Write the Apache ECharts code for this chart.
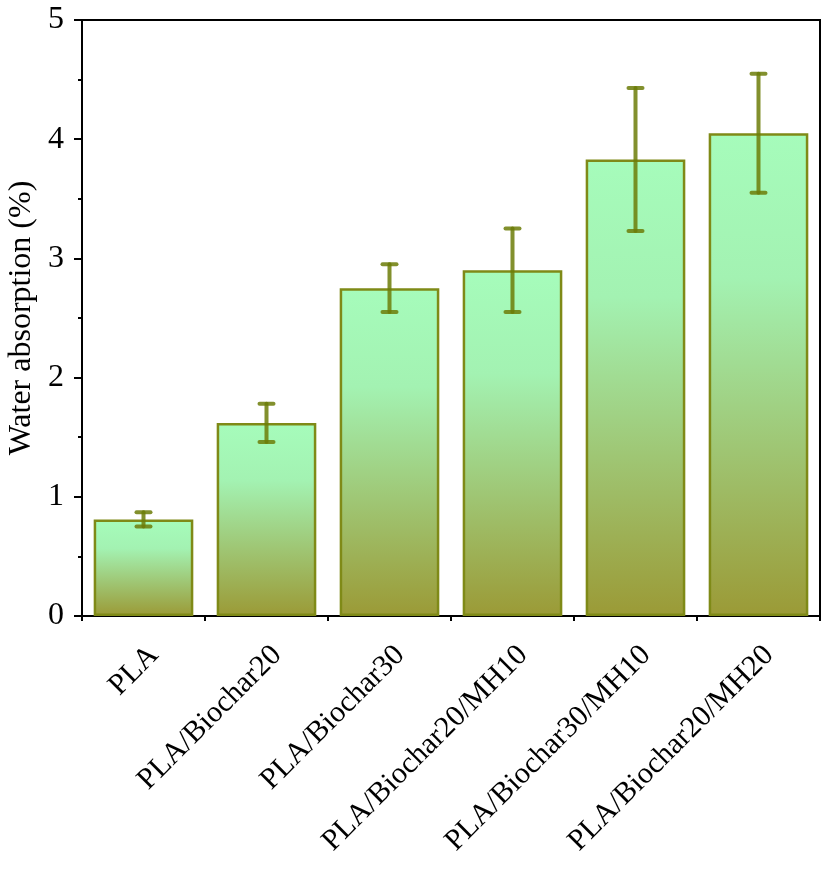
<!DOCTYPE html>
<html>
<head>
<meta charset="utf-8">
<script src="https://cdn.jsdelivr.net/npm/echarts@6/dist/echarts.min.js"></script>
<style>
  html, body { margin: 0; padding: 0; background: #fff; }
  #chart { width: 831px; height: 871px; }
</style>
</head>
<body>
<div id="chart"></div>
<script>
var categories = [
  "PLA",
  "PLA/Biochar20",
  "PLA/Biochar30",
  "PLA/Biochar20/MH10",
  "PLA/Biochar30/MH10",
  "PLA/Biochar20/MH20",
];
var absorption = [0.81, 1.62, 2.75, 2.9, 3.83, 4.05];
var errors = [0.06, 0.16, 0.2, 0.35, 0.6, 0.5];
var yTicks = [0, 1, 2, 3, 4, 5];

var font = '"Times New Roman", Tinos, "Liberation Serif", serif';
var edge = "#7f8a17";
var errColor = "rgba(108, 124, 8, 0.85)";

var errData = absorption.map(function (v, i) {
  return [i, v - errors[i], v + errors[i]];
});

var chart = echarts.init(document.getElementById("chart"), null, {
  renderer: "canvas",
});

var option = {
  animation: false,
  textStyle: { fontFamily: font },
  grid: {
    left: 82,
    right: 11,
    top: 20,
    bottom: 255,
    containLabel: false,
    outerBoundsMode: "none",
    show: true,
    borderColor: "#000",
    borderWidth: 2,
  },
  xAxis: [
    {
      type: "category",
      data: categories,
      axisLine: { lineStyle: { color: "#000", width: 2 } },
      axisTick: {
        alignWithLabel: true,
        length: 10,
        lineStyle: { color: "#000", width: 2 },
      },
      axisLabel: {
        rotate: 45,
        interval: 0,
        margin: 24,
        verticalAlign: "top",
        color: "#000",
        fontFamily: font,
        fontSize: 30,
      },
    },
    {
      // boundary ticks between categories
      type: "value",
      position: "bottom",
      min: 0,
      max: 6,
      interval: 1,
      axisLine: { show: false },
      axisTick: { length: 5, lineStyle: { color: "#000", width: 2 } },
      axisLabel: { show: false },
      splitLine: { show: false },
    },
  ],
  yAxis: {
    type: "value",
    min: 0,
    max: 5,
    interval: 1,
    name: "Water absorption (%)",
    nameLocation: "middle",
    nameGap: 32,
    nameTextStyle: { color: "#000", fontFamily: font, fontSize: 32 },
    axisLine: { show: true, lineStyle: { color: "#000", width: 2 } },
    axisTick: { show: true, length: 8, lineStyle: { color: "#000", width: 2 } },
    minorTick: {
      show: true,
      splitNumber: 2,
      length: 4,
      lineStyle: { color: "#000", width: 2 },
    },
    splitLine: { show: false },
    axisLabel: {
      margin: 18,
      color: "#000",
      fontFamily: font,
      fontSize: 32,
      formatter: function (v) {
        return yTicks.indexOf(v) >= 0 ? String(v) : "";
      },
    },
  },
  series: [
    {
      type: "bar",
      data: absorption,
      barWidth: "81%",
      itemStyle: {
        borderColor: edge,
        borderWidth: 2.5,
        color: new echarts.graphic.LinearGradient(0, 0, 0, 1, [
          { offset: 0, color: "#a6fcbb" },
          { offset: 0.3, color: "#a3f2b2" },
          { offset: 1, color: "#9b9a36" },
        ]),
      },
      z: 2,
    },
    {
      type: "custom",
      data: errData,
      z: 3,
      renderItem: function (params, api) {
        var x = api.value(0);
        var lo = api.coord([x, api.value(1)]);
        var hi = api.coord([x, api.value(2)]);
        var half = 7;
        var style = {
          stroke: errColor,
          lineWidth: 4,
          lineCap: "round",
        };
        return {
          type: "group",
          children: [
            { type: "line", shape: { x1: hi[0], y1: hi[1], x2: lo[0], y2: lo[1] }, style: style },
            { type: "line", shape: { x1: hi[0] - half, y1: hi[1], x2: hi[0] + half, y2: hi[1] }, style: style },
            { type: "line", shape: { x1: lo[0] - half, y1: lo[1], x2: lo[0] + half, y2: lo[1] }, style: style },
          ],
        };
      },
    },
  ],
};

chart.setOption(option);
</script>
</body>
</html>
